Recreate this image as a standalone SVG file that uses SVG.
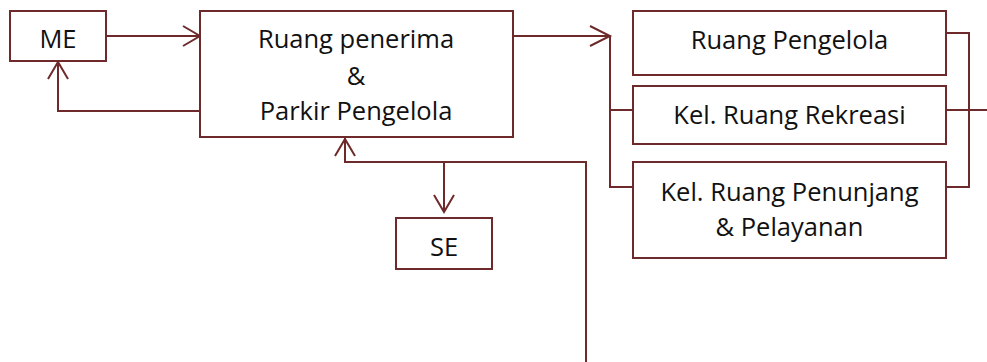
<svg xmlns="http://www.w3.org/2000/svg" width="987" height="362" viewBox="0 0 987 362">
<style>
.box{fill:#fff;stroke:#6e2a2a;stroke-width:2}
.ln{fill:none;stroke:#6e2a2a;stroke-width:2}
.t{font-family:"Open Sans","Liberation Sans",sans-serif;font-size:25.5px;fill:#111;text-anchor:middle}
</style>
<rect width="987" height="362" fill="#fff"/>
<g id="connectors">
<path class="ln" d="M106,36 H200 M183,26 L200,36 L183,46"/>
<path class="ln" d="M200,111 H58 V62 M48,79 L58,62 L68,79"/>
<path class="ln" d="M513,36 H610 M590,26 L610,36 L590,46"/>
<path class="ln" d="M610,36 V187 H633 M610,110 H633"/>
<path class="ln" d="M946,33 H969 V187 H946 M946,110 H987"/>
<path class="ln" d="M586,362 V162 H345 V138 M335,156 L345,139 L355,156"/>
<path class="ln" d="M444,162 V212 M434,195 L444,212 L454,195"/>
</g>
<g id="me"><rect class="box" x="10" y="11" width="96" height="50"/><text class="t" x="58" y="48">ME</text></g>
<g id="main"><rect class="box" x="200" y="11" width="313" height="126"/>
<text class="t" x="356" y="48">Ruang penerima</text>
<text class="t" x="356" y="85">&amp;</text>
<text class="t" x="356" y="120">Parkir Pengelola</text></g>
<g id="se"><rect class="box" x="396" y="218" width="96" height="51"/><text class="t" x="444" y="256">SE</text></g>
<g id="pengelola"><rect class="box" x="633" y="11" width="313" height="64"/><text class="t" x="789.5" y="49">Ruang Pengelola</text></g>
<g id="rekreasi"><rect class="box" x="633" y="86" width="313" height="58"/><text class="t" x="789.5" y="124">Kel. Ruang Rekreasi</text></g>
<g id="penunjang"><rect class="box" x="633" y="162" width="313" height="96"/>
<text class="t" x="789.5" y="201">Kel. Ruang Penunjang</text>
<text class="t" x="789.5" y="236">&amp; Pelayanan</text></g>
</svg>
